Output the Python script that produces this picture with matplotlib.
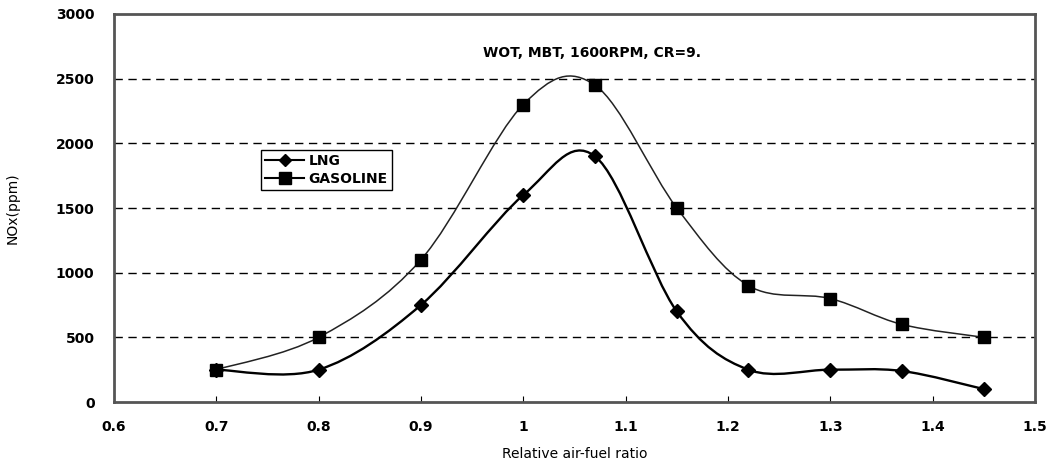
import matplotlib.pyplot as plt
import numpy as np
from matplotlib.path import Path
from matplotlib.patches import PathPatch
from matplotlib.lines import Line2D

# Relative air-fuel ratio
lam = [0.7, 0.8, 0.9, 1.0, 1.07, 1.15, 1.22, 1.3, 1.37, 1.45]
# NOx (ppm)
nox_lng = [250, 250, 750, 1600, 1900, 700, 250, 250, 240, 100]
nox_gasoline = [250, 500, 1100, 2300, 2450, 1500, 900, 800, 600, 500]

xticks = [0.6, 0.7, 0.8, 0.9, 1.0, 1.1, 1.2, 1.3, 1.4, 1.5]
xtick_labels = ['0.6', '0.7', '0.8', '0.9', '1', '1.1', '1.2', '1.3', '1.4', '1.5']
yticks = [0, 500, 1000, 1500, 2000, 2500, 3000]

plt.rcParams['font.family'] = 'DejaVu Sans'
plt.rcParams['font.weight'] = 'bold'


# Excel-like smoothed line: cubic Bezier segments through the points
def smooth_path(x, y):
    p = np.column_stack([x, y]).astype(float)
    n = len(p)
    verts = [p[0]]
    codes = [Path.MOVETO]
    for i in range(n - 1):
        prev = p[i - 1] if i > 0 else p[i]
        nxt = p[i + 2] if i + 2 < n else p[i + 1]
        c1 = p[i] + (p[i + 1] - prev) / 6
        c2 = p[i + 1] - (nxt - p[i]) / 6
        verts += [c1, c2, p[i + 1]]
        codes += [Path.CURVE4] * 3
    return Path(verts, codes)


fig = plt.figure(figsize=(10.59, 4.63), dpi=100)
ax = fig.add_axes([0.1076, 0.1317, 0.8697, 0.8381])

for yv in yticks[1:-1]:
    ax.axhline(yv, color='black', linestyle=(0, (6, 4)), linewidth=1.0, zorder=1)

ax.add_patch(PathPatch(smooth_path(lam, nox_gasoline), facecolor='none',
                       edgecolor='#222222', linewidth=1.1, zorder=2))
ax.add_patch(PathPatch(smooth_path(lam, nox_lng), facecolor='none',
                       edgecolor='black', linewidth=1.7, zorder=2))
ax.plot(lam, nox_lng, linestyle='none', marker='D', markersize=7,
        color='black', zorder=3)
ax.plot(lam, nox_gasoline, linestyle='none', marker='s', markersize=9,
        color='black', zorder=3)

ax.set_xlim(0.6, 1.5)
ax.set_ylim(0, 3000)
ax.set_xticks(xticks)
ax.set_xticklabels(xtick_labels)
ax.set_yticks(yticks)
ax.tick_params(axis='x', direction='in', length=4, pad=13, labelsize=10)
ax.tick_params(axis='y', length=0, pad=14, labelsize=10)
for s in ax.spines.values():
    s.set_color('#555555')
    s.set_linewidth(2.0)

ax.set_xlabel('Relative air-fuel ratio', fontsize=10, labelpad=9)
ax.set_ylabel('NOx(ppm)', fontsize=10, labelpad=26)

ax.text(1.067, 2700, 'WOT, MBT, 1600RPM, CR=9.', ha='center', va='center',
        fontsize=10, fontweight='bold')

handles = [Line2D([], [], color='black', marker='D', markersize=6, linewidth=1.5),
           Line2D([], [], color='black', marker='s', markersize=8, linewidth=1.5)]
leg = ax.legend(handles, ['LNG', 'GASOLINE'], loc='upper left',
                bbox_to_anchor=(0.16, 0.65), fontsize=10, frameon=True,
                fancybox=False, edgecolor='black', framealpha=1,
                handlelength=2.8, handletextpad=0.3, borderpad=0.3,
                labelspacing=0.3, borderaxespad=0)
leg.get_frame().set_linewidth(1.0)

fig.savefig('out.png', dpi=100)
